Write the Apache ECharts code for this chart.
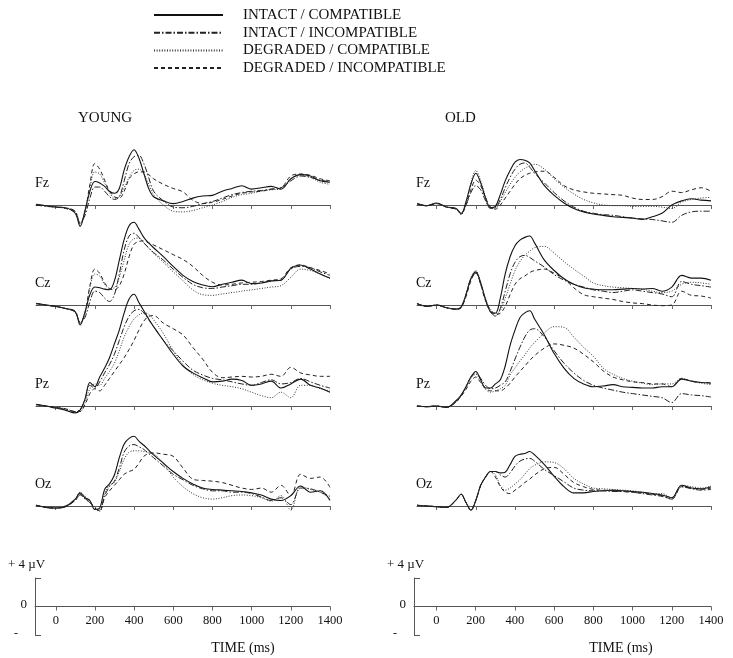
<!DOCTYPE html>
<html><head><meta charset="utf-8">
<script src="https://cdn.jsdelivr.net/npm/echarts@6/dist/echarts.min.js"></script>
<style>html,body{margin:0;padding:0;background:#fff}#c{width:733px;height:658px}</style>
</head><body><div id="c"></div>
<script>
// time base (ms)
const times = [-100,-50,0,50,100,125,150,175,200,225,250,275,300,325,350,375,400,425,450,475,500,550,600,650,700,750,800,850,900,950,1000,1050,1100,1150,1200,1250,1300,1350,1400];
const tickTimes = [0,200,400,600,800,1000,1200,1400];
const conditions = ['INTACT / COMPATIBLE','INTACT / INCOMPATIBLE','DEGRADED / COMPATIBLE','DEGRADED / INCOMPATIBLE'];
const groups = ['YOUNG','OLD'];
const channels = ['Fz','Cz','Pz','Oz'];

// YOUNG (µV)
const yFz1 = [0.1,-0.1,-0.3,-0.4,-1.2,-3.1,-0.8,2.0,3.4,3.2,2.7,2.0,1.7,2.4,5.1,7.0,8.0,6.8,4.6,2.4,1.2,0.6,0.2,0.5,1.0,1.3,1.4,2.0,2.4,2.8,2.3,2.5,2.7,2.3,3.8,4.4,4.2,3.5,3.3];
const yFz2 = [0.0,-0.2,-0.3,-0.4,-0.9,-2.6,-1.5,1.0,2.6,2.6,2.0,1.2,0.8,1.2,3.5,6.0,7.0,7.2,6.0,4.0,2.0,0.6,-0.3,-0.4,-0.2,0.2,0.5,1.0,1.5,1.8,2.0,2.1,2.3,2.5,3.5,4.2,4.0,3.6,3.4];
const yFz3 = [0.0,-0.1,-0.3,-0.5,-1.1,-2.8,-1.0,2.5,4.8,4.5,3.2,1.8,1.0,1.2,2.5,4.0,5.0,5.2,4.5,3.0,1.5,0.0,-0.9,-1.0,-0.8,-0.4,0.0,0.5,1.1,1.5,1.7,2.0,2.2,2.3,3.8,4.3,4.0,3.3,3.0];
const yFz4 = [0.0,-0.1,-0.3,-0.5,-1.0,-2.7,-1.0,3.0,6.0,5.2,3.6,2.0,1.2,1.0,2.0,3.8,4.5,4.8,4.8,4.4,3.8,3.0,2.4,1.9,0.7,0.2,0.4,0.8,1.3,1.7,1.9,2.0,2.3,2.5,4.2,4.5,4.3,3.8,3.5];
const yCz1 = [0.25,0.0,-0.2,-0.5,-1.0,-2.9,-1.0,1.5,2.6,2.5,2.3,2.2,3.5,6.5,9.5,11.5,12.0,11.0,9.8,9.0,8.3,7.0,5.6,4.3,3.4,2.9,2.65,3.0,3.3,3.6,3.1,3.2,3.5,3.6,5.3,5.8,5.2,4.5,3.9];
const yCz2 = [0.2,0.0,-0.2,-0.5,-0.9,-2.5,-1.8,0.5,2.0,1.8,1.0,0.5,1.5,4.5,8.0,10.0,10.4,9.8,9.0,8.3,7.6,6.5,5.2,4.0,3.0,2.5,2.4,2.6,2.8,3.0,3.0,3.2,3.5,3.6,5.2,5.6,5.4,4.8,4.3];
const yCz3 = [0.2,0.0,-0.2,-0.5,-1.0,-2.6,-1.2,2.5,4.5,4.2,3.0,2.4,2.5,4.0,6.5,8.8,9.6,9.7,9.0,8.2,7.5,6.2,4.8,3.5,2.2,1.5,1.4,1.6,1.8,2.0,2.2,2.4,2.6,2.8,4.0,5.2,5.0,4.5,3.8];
const yCz4 = [0.2,0.0,-0.2,-0.5,-1.0,-2.6,-1.2,2.8,5.2,4.6,3.2,2.4,2.2,2.8,4.5,7.0,8.8,9.2,9.3,9.0,8.7,8.0,7.3,6.6,5.6,4.3,3.3,2.9,3.0,3.2,3.3,3.4,3.6,3.8,5.4,5.8,5.4,5.0,4.5];
const yPz1 = [0.25,0.0,-0.3,-0.6,-1.0,-0.6,1.0,3.4,2.8,4.2,5.5,7.0,9.0,11.0,13.5,15.5,16.2,15.0,13.8,12.6,11.5,9.5,7.5,5.8,4.8,4.1,3.5,3.6,3.9,3.7,3.0,3.2,3.6,2.6,3.2,3.9,3.0,2.6,2.0];
const yPz2 = [0.2,0.0,-0.2,-0.5,-0.8,-0.5,1.0,3.0,2.6,3.5,4.8,6.0,7.5,9.5,11.5,13.0,13.8,14.0,13.5,12.5,11.5,9.5,8.0,6.5,5.2,4.5,4.0,3.8,3.5,3.2,3.0,3.4,3.8,3.2,3.4,4.0,3.5,3.0,2.6];
const yPz3 = [0.2,0.0,-0.2,-0.4,-0.8,-0.8,0.5,2.5,3.2,3.0,4.0,5.0,6.2,8.0,10.0,11.5,12.6,13.2,13.5,13.3,12.5,10.5,8.0,6.0,4.6,3.8,3.3,3.0,2.8,2.5,2.0,1.5,1.2,2.0,1.2,3.0,3.0,2.5,2.2];
const yPz4 = [0.2,0.0,-0.2,-0.4,-0.8,-0.8,0.2,1.8,2.5,2.2,3.0,4.0,5.0,6.0,7.0,8.2,9.5,11.0,12.3,13.0,13.1,12.0,11.2,10.3,8.5,6.8,4.9,4.1,4.2,4.3,4.2,4.3,4.6,4.3,5.6,4.8,4.5,4.3,4.3];
const yOz1 = [0.1,-0.2,-0.3,-0.1,1.0,1.9,1.2,0.8,-0.5,-0.3,2.4,3.2,4.5,7.0,9.0,9.8,10.1,9.4,8.8,8.1,7.4,6.2,5.0,4.0,3.2,2.6,2.4,2.3,2.2,2.1,1.9,1.6,1.0,0.8,1.5,2.9,2.0,2.2,0.8];
const yOz2 = [0.1,-0.2,-0.3,-0.1,0.8,1.6,1.0,0.5,-0.4,-0.6,1.5,2.8,3.6,5.5,7.8,8.7,8.9,8.6,8.2,7.6,7.0,5.8,4.6,3.8,3.0,2.5,2.2,2.2,2.0,2.0,1.8,1.3,0.8,1.2,0.2,2.6,2.5,2.0,1.4];
const yOz3 = [0.1,-0.2,-0.3,0.0,1.0,2.0,1.4,0.7,-0.3,-0.8,1.8,3.0,3.4,5.0,6.8,7.8,8.0,8.0,7.9,7.8,7.6,6.2,4.2,2.8,1.8,1.2,1.0,1.2,1.5,1.6,1.5,1.2,0.7,1.5,-0.6,2.8,2.4,2.0,1.0];
const yOz4 = [0.1,-0.2,-0.3,0.0,0.8,1.7,1.1,0.6,-0.3,-0.7,1.2,2.2,3.0,3.8,4.6,5.0,5.3,6.2,7.2,7.6,7.7,7.5,7.2,5.5,3.9,3.7,3.6,3.4,3.0,2.6,2.4,2.6,2.0,3.0,1.5,4.6,4.0,4.2,2.7];

// OLD (µV)
const oFz1 = [0.2,-0.1,0.3,-0.3,-0.5,-1.3,0.5,3.0,4.6,3.2,1.0,-0.4,-0.2,1.5,3.5,5.0,6.2,6.6,6.5,6.1,5.0,2.8,1.4,0.3,-0.5,-1.0,-1.3,-1.5,-1.7,-1.8,-1.9,-2.1,-1.7,-1.2,0.0,0.6,0.9,0.7,0.6];
const oFz2 = [0.2,-0.1,0.2,-0.3,-0.6,-1.2,0.0,1.8,2.8,2.2,0.6,-0.5,-0.4,0.8,2.5,4.0,5.2,5.9,6.1,5.5,4.6,3.2,1.8,0.6,-0.3,-0.9,-1.2,-1.4,-1.5,-1.7,-1.9,-2.0,-2.1,-2.3,-2.5,-1.5,-1.0,-0.9,-0.9];
const oFz3 = [0.2,-0.1,0.2,-0.3,-0.6,-1.4,0.2,3.2,5.0,3.5,1.2,-0.4,-0.4,0.5,1.8,3.0,4.0,4.8,5.3,5.7,5.9,5.2,3.8,2.6,1.6,0.8,0.3,0.0,-0.1,-0.1,-0.2,-0.2,-0.2,-0.3,-0.5,0.4,0.8,1.0,1.1];
const oFz4 = [0.2,-0.1,0.2,-0.3,-0.6,-1.2,0.0,2.2,3.6,2.8,1.0,-0.3,-0.6,0.0,1.0,2.0,3.0,3.8,4.3,4.6,4.8,4.9,4.0,2.8,2.2,1.9,1.7,1.6,1.5,1.4,1.0,0.8,0.8,1.2,2.0,1.8,2.2,2.5,2.0];
const oCz1 = [0.2,-0.2,0.0,-0.4,-0.6,-0.3,1.5,3.8,4.8,3.2,0.8,-1.0,-1.2,1.0,4.5,7.0,8.6,9.4,9.8,10.0,9.0,6.5,5.0,3.8,3.0,2.5,2.3,2.2,2.2,2.3,2.4,2.3,2.4,2.0,2.6,4.3,3.9,3.9,3.6];
const oCz2 = [0.2,-0.2,0.0,-0.4,-0.6,-0.3,1.5,3.8,4.6,3.0,0.6,-1.0,-1.6,-0.5,2.0,4.5,6.2,7.0,7.2,6.9,6.4,5.5,4.4,3.6,3.0,2.6,2.2,2.0,1.8,2.0,2.2,2.0,1.8,1.6,1.2,3.4,3.0,2.8,2.6];
const oCz3 = [0.2,-0.2,0.0,-0.4,-0.6,-0.4,1.6,4.0,5.0,3.3,0.8,-0.6,-1.2,-0.8,1.0,3.0,5.0,6.3,7.2,7.8,8.3,8.5,7.5,6.3,5.2,4.2,3.2,2.8,2.6,2.5,2.4,2.3,2.0,1.8,2.0,3.0,3.3,3.2,3.0];
const oCz4 = [0.2,-0.2,0.0,-0.4,-0.6,-0.4,1.2,3.5,4.7,3.0,0.6,-0.8,-1.4,-1.2,-0.2,1.5,3.0,3.8,4.2,4.7,5.0,5.2,4.6,3.8,2.5,1.5,1.2,1.0,0.8,0.5,0.3,0.2,0.0,-0.1,0.0,2.0,1.4,1.3,1.0];
const oPz1 = [0.0,-0.1,0.0,-0.2,0.8,1.6,2.8,4.2,5.0,3.8,2.6,2.6,3.2,3.8,5.8,8.8,11.0,12.8,13.5,13.8,12.6,10.3,7.6,5.5,4.0,3.2,2.8,2.9,3.1,2.8,2.7,2.6,2.6,2.8,2.8,3.9,3.6,3.4,3.3];
const oPz2 = [0.0,-0.1,0.0,-0.2,0.6,1.5,2.8,4.2,4.8,4.0,3.0,2.5,2.6,3.0,3.5,5.0,6.8,8.5,10.0,11.0,11.2,10.0,8.0,6.2,4.8,3.7,3.0,2.6,2.3,2.0,1.8,1.6,1.4,1.2,0.5,1.8,1.6,1.5,1.3];
const oPz3 = [0.0,-0.1,0.0,-0.2,0.6,1.5,2.6,4.0,4.6,3.6,2.4,2.0,2.2,2.5,3.0,4.5,5.5,6.5,7.4,8.4,9.2,10.6,11.5,11.4,10.0,8.5,7.2,5.5,4.6,4.0,3.6,3.3,3.1,3.2,3.2,4.0,3.6,3.3,3.1];
const oPz4 = [0.0,-0.1,0.0,-0.2,0.6,1.4,2.4,3.6,4.2,3.4,2.6,2.2,2.2,2.2,2.6,3.3,4.2,5.0,5.8,6.6,7.3,8.4,9.0,8.8,8.4,7.5,6.4,5.1,4.2,3.8,3.5,3.4,3.2,3.2,2.8,4.0,3.6,3.4,3.4];
const oOz1 = [0.1,0.0,-0.1,-0.2,0.9,1.7,0.5,-0.6,0.8,3.0,4.2,5.0,5.0,4.8,4.9,6.0,7.2,7.5,7.6,7.9,7.4,6.0,4.3,2.8,1.9,1.9,2.1,2.2,2.3,2.2,2.1,2.0,1.8,1.6,1.2,3.0,2.6,2.5,2.8];
const oOz2 = [0.1,0.0,-0.1,-0.2,0.9,1.7,0.5,-0.6,0.8,3.0,4.2,5.0,5.0,4.5,4.2,4.8,5.8,6.5,6.8,6.9,6.5,5.3,4.4,3.5,2.6,2.3,2.2,2.2,2.1,2.1,2.0,1.8,1.6,1.4,1.0,2.8,2.5,2.3,2.4];
const oOz3 = [0.1,0.0,-0.1,-0.2,0.9,1.7,0.5,-0.6,0.8,3.0,4.2,5.0,4.5,3.0,2.3,2.6,3.2,3.8,4.6,5.4,5.9,6.4,6.3,5.4,4.0,3.2,2.6,2.5,2.4,2.3,2.2,2.0,1.8,1.8,1.2,3.0,2.8,2.6,2.9];
const oOz4 = [0.1,0.0,-0.1,-0.2,0.9,1.7,0.5,-0.6,0.8,3.0,4.2,5.0,4.2,2.8,2.0,1.8,2.3,2.8,3.4,3.9,4.5,5.4,5.6,4.6,3.4,2.8,2.4,2.3,2.2,2.1,2.0,1.9,1.7,1.5,1.0,2.8,2.6,2.4,2.6];

const panelData = [
  [[yFz1,yFz2,yFz3,yFz4],[yCz1,yCz2,yCz3,yCz4],[yPz1,yPz2,yPz3,yPz4],[yOz1,yOz2,yOz3,yOz4]],
  [[oFz1,oFz2,oFz3,oFz4],[oCz1,oCz2,oCz3,oCz4],[oPz1,oPz2,oPz3,oPz4],[oOz1,oOz2,oOz3,oOz4]]
];

// ---- layout ----
const SERIF = "'Liberation Serif','DejaVu Serif',serif";
const K = 6.9;               // px per µV
const YMIN = -4, YMAX = 18;
const baselines = [205, 305, 406, 506];
const colLeft = [36, 417];
const colWidth = 294;
const lineTypes = ['solid', [6,2,1.5,2], [1,1.6], [4,3]];
const lineColors = ['#111', '#222', '#333', '#222'];
const lineWidths = [1.1, 1, 1, 1];

const grid = [], xAxis = [], yAxis = [], series = [], graphic = [];
let gi = 0;
for (let c = 0; c < 2; c++) {
  for (let r = 0; r < 4; r++) {
    grid.push({left: colLeft[c], width: colWidth, top: baselines[r] - YMAX*K, height: (YMAX-YMIN)*K});
    xAxis.push({gridIndex: gi, type: 'value', min: -100, max: 1400,
      axisLine: {onZero: true, lineStyle: {color: '#555', width: 1}},
      axisTick: {show: true, customValues: tickTimes, length: 4, lineStyle: {color: '#666'}},
      axisLabel: {show: false}, splitLine: {show: false}});
    yAxis.push({gridIndex: gi, type: 'value', min: YMIN, max: YMAX, show: false, splitLine: {show: false}});
    panelData[c][r].forEach((arr, k) => {
      series.push({type: 'line', name: conditions[k], xAxisIndex: gi, yAxisIndex: gi,
        data: times.map((t, i) => [t, arr[i]]), symbol: 'none', smooth: 0.35, clip: false,
        lineStyle: {type: lineTypes[k], color: lineColors[k], width: lineWidths[k]},
        itemStyle: {color: lineColors[k]}, silent: true, animation: false});
    });
    graphic.push({type: 'text', left: colLeft[c] - 1, top: baselines[r] - 29,
      style: {text: channels[r], font: "14px " + SERIF, fill: '#111'}});
    gi++;
  }
}
// scale bars: one grid for the µV bar, one for the time axis
const scaleLeft = [35, 414], scaleMin = [-106, -114], scaleWidth = [295, 297];
const timeCenters = [243, 621];
for (let c = 0; c < 2; c++) {
  // µV bar
  grid.push({left: scaleLeft[c], width: scaleWidth[c], top: 578, height: 57});
  xAxis.push({gridIndex: gi, type: 'value', min: scaleMin[c], max: 1400, show: false});
  yAxis.push({gridIndex: gi, type: 'value', min: -4, max: 4,
    axisLine: {show: true, onZero: false, lineStyle: {color: '#555'}},
    axisTick: {show: true, customValues: [-4, 4], inside: true, length: 6, lineStyle: {color: '#555'}},
    axisLabel: {show: false}, splitLine: {show: false}});
  gi++;
  // time axis
  grid.push({left: scaleLeft[c], width: scaleWidth[c], top: 578, height: 28.5});
  xAxis.push({gridIndex: gi, type: 'value', min: scaleMin[c], max: 1400,
    axisLine: {onZero: false, lineStyle: {color: '#555'}},
    axisTick: {customValues: tickTimes, length: 4, lineStyle: {color: '#666'}},
    axisLabel: {customValues: tickTimes, margin: 8, fontFamily: SERIF, fontSize: 12.5, color: '#111',
      formatter: v => String(v)},
    splitLine: {show: false}});
  yAxis.push({gridIndex: gi, type: 'value', min: 0, max: 4, show: false, splitLine: {show: false}});
  gi++;
  const bx = scaleLeft[c];
  graphic.push({type: 'text', left: bx - 27, top: 558, style: {text: '+ 4 µV', font: "13px " + SERIF, fill: '#111'}});
  graphic.push({type: 'text', x: bx - 8, y: 605, style: {text: '0', font: "13px " + SERIF, fill: '#111', align: 'right', verticalAlign: 'middle'}});
  graphic.push({type: 'text', x: bx - 19, y: 634, style: {text: '-', font: "12px " + SERIF, fill: '#111', align: 'center', verticalAlign: 'middle'}});
  graphic.push({type: 'text', x: timeCenters[c], y: 648, style: {text: 'TIME (ms)', font: "14px " + SERIF, fill: '#111', align: 'center', verticalAlign: 'middle'}});
}
graphic.push({type: 'text', x: 78, y: 118, style: {text: groups[0], font: "15px " + SERIF, fill: '#111', verticalAlign: 'middle'}});
graphic.push({type: 'text', x: 445, y: 118, style: {text: groups[1], font: "15px " + SERIF, fill: '#111', verticalAlign: 'middle'}});

const chart = echarts.init(document.getElementById('c'), null, {renderer: 'canvas'});
chart.setOption({
  animation: false,
  backgroundColor: '#fff',
  legend: {data: conditions, orient: 'vertical', left: 148, top: 2.5, itemWidth: 69, itemHeight: 10, itemGap: 2.7,
    selectedMode: false, itemStyle: {opacity: 0},
    textStyle: {fontFamily: SERIF, fontSize: 15, color: '#111', lineHeight: 15, padding: [0, 0, 0, 15]}},
  grid, xAxis, yAxis, series, graphic
});
</script></body></html>
